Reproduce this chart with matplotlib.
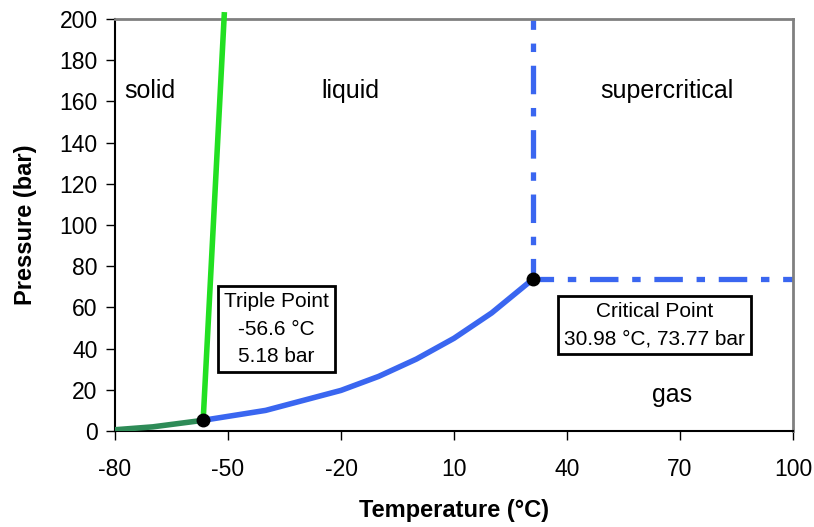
import numpy as np
from matplotlib import pyplot as plt

plt.rcParams['font.family'] = ['Liberation Sans', 'DejaVu Sans']
plt.rcParams['axes.unicode_minus'] = False

# sublimation curve (solid-gas)
sub_T = [-80, -70, -56.6]
sub_P = [0.6, 2.0, 5.18]
# melting curve (solid-liquid)
melt_T = [-56.6, -51.0]
melt_P = [5.18, 202]
# vaporisation curve (liquid-gas)
vap_T = [-56.6, -40, -20, -10, 0, 10, 20, 30.98]
vap_P = [5.18, 10.0, 19.7, 26.5, 34.9, 45.0, 57.3, 73.77]
# supercritical boundaries
crit_T = 30.98
crit_P = 73.77
# points
pts_T = [-56.6, 30.98]
pts_P = [5.18, 73.77]

xticks = [-80, -50, -20, 10, 40, 70, 100]
yticks = list(range(0, 201, 20))

fig = plt.figure(figsize=(8.14, 5.27), dpi=100)
ax = fig.add_axes([0.1413, 0.1822, 0.8329, 0.7818])

ax.plot(sub_T, sub_P, color='#2e8b57', lw=4, solid_capstyle='butt', zorder=3)
ax.plot(melt_T, melt_P, color='#22e022', lw=4, zorder=3, clip_on=False)
ax.plot(vap_T, vap_P, color='#3a66f0', lw=4, zorder=3)
dash = (1.5, (5.4, 2.6, 1.6, 2.6))
ax.plot([crit_T, crit_T], [crit_P, 200], color='#3a66f0', lw=3.8, linestyle=dash, zorder=2)
ax.plot([crit_T, 100], [crit_P, crit_P], color='#3a66f0', lw=3.8, linestyle=dash, zorder=2)
ax.plot(pts_T, pts_P, 'o', color='black', ms=9, zorder=5, clip_on=False)

ax.text(-77.5, 165, 'solid', fontsize=18, ha='left', va='center')
ax.text(-17.5, 165, 'liquid', fontsize=18, ha='center', va='center')
ax.text(66.5, 165, 'supercritical', fontsize=18, ha='center', va='center')
ax.text(68, 17.5, 'gas', fontsize=18, ha='center', va='center')

box = dict(boxstyle='square,pad=0.3', facecolor='white', edgecolor='black', lw=2)
ax.text(-37.2, 49.5, 'Triple Point\n-56.6 \u00b0C\n5.18 bar', fontsize=15,
        ha='center', va='center', linespacing=1.58, bbox=box, zorder=6)
ax.text(63.3, 51.5, 'Critical Point\n30.98 \u00b0C, 73.77 bar', fontsize=15,
        ha='center', va='center', linespacing=1.55, bbox=box, zorder=6)

ax.set_xlim(-80, 100)
ax.set_ylim(0, 200)
ax.set_xticks(xticks)
ax.set_yticks(yticks)
ax.tick_params(labelsize=16.5, length=6.5, width=1, direction='out')
ax.tick_params(axis='x', pad=13)
ax.tick_params(axis='y', pad=6)
ax.set_xlabel('Temperature (\u00b0C)', fontsize=17, fontweight='bold', labelpad=13)
ax.set_ylabel('Pressure (bar)', fontsize=17, fontweight='bold', labelpad=16)

ax.spines['left'].set_color('black')
ax.spines['bottom'].set_color('black')
ax.spines['left'].set_linewidth(1.5)
ax.spines['bottom'].set_linewidth(1.5)
ax.spines['top'].set_color('#808080')
ax.spines['right'].set_color('#808080')
ax.spines['top'].set_linewidth(2)
ax.spines['right'].set_linewidth(2)

fig.savefig('out.png', dpi=100)
